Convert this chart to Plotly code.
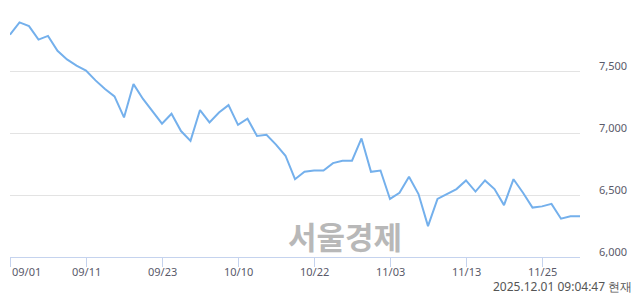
import plotly.graph_objects as go

dates = [
    "09/01", "09/02", "09/03", "09/04", "09/05", "09/08", "09/09", "09/10", "09/11", "09/12",
    "09/15", "09/16", "09/17", "09/18", "09/19", "09/22", "09/23", "09/24", "09/25", "09/26",
    "09/29", "09/30", "10/01", "10/02", "10/10", "10/13", "10/14", "10/15", "10/16", "10/17",
    "10/20", "10/21", "10/22", "10/23", "10/24", "10/27", "10/28", "10/29", "10/30", "10/31",
    "11/03", "11/04", "11/05", "11/06", "11/07", "11/10", "11/11", "11/12", "11/13", "11/14",
    "11/17", "11/18", "11/19", "11/20", "11/21", "11/24", "11/25", "11/26", "11/27", "11/28",
    "12/01",
]
prices = [
    7800, 7900, 7870, 7760, 7790, 7670, 7600, 7550, 7510, 7430,
    7360, 7300, 7130, 7400, 7280, 7180, 7080, 7160, 7020, 6940,
    7190, 7090, 7170, 7230, 7070, 7120, 6980, 6990, 6910, 6820,
    6630, 6690, 6700, 6700, 6760, 6780, 6780, 6960, 6690, 6700,
    6470, 6520, 6650, 6510, 6250, 6470, 6510, 6550, 6620, 6530,
    6620, 6550, 6420, 6630, 6520, 6400, 6410, 6430, 6310, 6330,
    6330,
]
x_tick_labels = ["09/01", "09/11", "09/23", "10/10", "10/22", "11/03", "11/13", "11/25"]
y_tick_values = [6000, 6500, 7000, 7500]
y_grid_values = [6000, 6500, 7000, 7500, 8000]
timestamp = "2025.12.01 09:04:47 현재"
watermark = "서울경제"

FONT = "Noto Sans"
LABEL_COLOR = "#5a5a6a"

fig = go.Figure()
fig.add_trace(go.Scatter(
    x=dates, y=prices, mode="lines",
    line=dict(color="#74b0ec", width=2),
    hoverinfo="skip", showlegend=False,
))

annotations = []
for i, lab in enumerate(x_tick_labels):
    annotations.append(dict(
        x=lab, xref="x", y=0, yref="paper", yshift=-14,
        text=lab, showarrow=False,
        xanchor="left" if i == 0 else "center", yanchor="middle",
        font=dict(family=FONT, size=11, color=LABEL_COLOR),
    ))
for v in y_tick_values:
    annotations.append(dict(
        x=(629 - 10) / 570, xref="paper", y=v, yref="y", yshift=6,
        text=f"{v:,}", showarrow=False, xanchor="right", yanchor="middle",
        font=dict(family=FONT, size=11, color=LABEL_COLOR),
    ))
annotations.append(dict(
    x=(634 - 10) / 570, xref="paper", y=0, yref="paper", yshift=-29,
    text=timestamp, showarrow=False, xanchor="right", yanchor="middle",
    font=dict(family=FONT, size=12, color="#555555"),
))
annotations.append(dict(
    x=(345 - 10) / 570, xref="paper", y=(257 - 235) / 247, yref="paper",
    text=f"<b>{watermark}</b>", showarrow=False, xanchor="center", yanchor="middle",
    font=dict(family="Noto Sans CJK KR", size=31, color="#b8b8b8"),
))

fig.update_layout(
    width=640, height=294,
    margin=dict(l=10, r=60, t=10, b=37),
    paper_bgcolor="white", plot_bgcolor="white",
    annotations=annotations,
    xaxis=dict(
        type="category", range=[0, len(dates) - 1],
        showgrid=False, zeroline=False,
        showline=True, linecolor="#c5d3ee", linewidth=1,
        ticks="outside", ticklen=9, tickcolor="#c5d3ee", tickwidth=1,
        tickvals=x_tick_labels, showticklabels=False,
        fixedrange=True,
    ),
    yaxis=dict(
        range=[6000, 8000], side="right",
        tickvals=y_grid_values, showticklabels=False,
        showgrid=True, gridcolor="#e3e3e3", gridwidth=1,
        zeroline=False, showline=False, ticks="",
        fixedrange=True,
    ),
)

fig.write_html("out.html")
